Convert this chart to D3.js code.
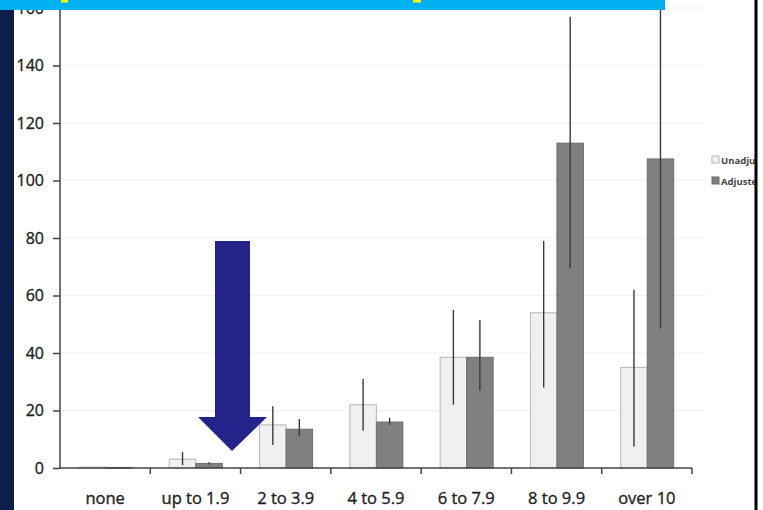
<!DOCTYPE html>
<html>
<head>
<meta charset="utf-8">
<script src="https://cdn.jsdelivr.net/npm/d3@7/dist/d3.min.js"></script>
<style>
html,body{margin:0;padding:0;background:#fff;}
svg{display:block;}
</style>
</head>
<body>
<svg id="chart" width="763" height="510"></svg>
<script>
const categories = ["none","up to 1.9","2 to 3.9","4 to 5.9","6 to 7.9","8 to 9.9","over 10"];
const unadjusted = [0.3, 3.1, 15, 22, 38.5, 54, 35];
const unadjLow   = [0.3, 1, 8, 13, 22, 28, 7.5];
const unadjHigh  = [0.3, 5.5, 21.5, 31, 55, 79, 62];
const adjusted   = [0.2, 1.6, 13.5, 16, 38.5, 113, 107.5];
const adjLow     = [0.2, 1.2, 11, 15, 27, 69.5, 48.5];
const adjHigh    = [0.2, 2, 17, 17.5, 51.5, 157, 175];
const yTicks = [0,20,40,60,80,100,120,140,160];
const seriesNames = ["Unadjusted","Adjusted"];

const svg = d3.select("#chart");
const W = 763, H = 510;
const x0 = d3.scaleBand().domain(categories).range([60, 692]).padding(0);
const x1 = d3.scaleBand().domain(seriesNames).range([19, 72]).padding(0);
const y = d3.scaleLinear().domain([0,160]).range([468, 8]);

const fills = {Unadjusted:"#f0f0f0", Adjusted:"#808080"};
const strokes = {Unadjusted:"#b5b5b5", Adjusted:"#6e6e6e"};
const axisCol = "#444";

// gridlines
svg.append("g").selectAll("line").data(yTicks.slice(1)).join("line")
  .attr("x1", 60).attr("x2", 705)
  .attr("y1", d=>y(d)).attr("y2", d=>y(d))
  .attr("stroke", "#f1f1f1").attr("stroke-width", 1);

const rows = categories.map((c,i)=>[
  {cat:c, s:"Unadjusted", v:unadjusted[i], lo:unadjLow[i], hi:unadjHigh[i]},
  {cat:c, s:"Adjusted", v:adjusted[i], lo:adjLow[i], hi:adjHigh[i]}
]).flat();

svg.append("defs").append("clipPath").attr("id","plotclip")
  .append("rect").attr("x",0).attr("y",0).attr("width",W).attr("height",468);

const g = svg.append("g");
g.selectAll("rect.bar").data(rows).join("rect")
  .attr("class","bar")
  .attr("x", d=>x0(d.cat)+x1(d.s))
  .attr("width", x1.bandwidth())
  .attr("y", d=>y(d.v))
  .attr("height", d=>Math.max(0.8, y(0)-y(d.v)))
  .attr("fill", d=>fills[d.s])
  .attr("stroke", d=>strokes[d.s])
  .attr("stroke-width", 1);

g.append("g").attr("clip-path","url(#plotclip)")
  .selectAll("line.err").data(rows.filter(d=>d.hi-d.lo>0.5)).join("line")
  .attr("x1", d=>x0(d.cat)+x1(d.s)+x1.bandwidth()/2)
  .attr("x2", d=>x0(d.cat)+x1(d.s)+x1.bandwidth()/2)
  .attr("y1", d=>y(d.lo)).attr("y2", d=>y(d.hi))
  .attr("stroke", "#3a3a3a").attr("stroke-width", 1.4);

// y axis
const yAxis = d3.axisLeft(y).tickValues(yTicks).tickSize(7).tickPadding(9).tickFormat(d3.format("d"));
const ya = svg.append("g").attr("transform","translate(60,0)").call(yAxis);
ya.select(".domain").remove();
ya.selectAll(".tick line").attr("stroke",axisCol).attr("stroke-width",1.5);
ya.selectAll(".tick text").attr("font-family","'Open Sans', sans-serif").attr("font-size",16)
  .attr("fill","#222").attr("stroke","#222").attr("stroke-width",0.35);
svg.append("line").attr("x1",60).attr("x2",60).attr("y1",0).attr("y2",y(0))
  .attr("stroke",axisCol).attr("stroke-width",1.5);

// x axis
svg.append("line").attr("x1",60).attr("x2",692).attr("y1",y(0)).attr("y2",y(0))
  .attr("stroke",axisCol).attr("stroke-width",1.5);
svg.append("g").selectAll("line").data(categories).join("line")
  .attr("x1", d=>x0(d)+x0.bandwidth()).attr("x2", d=>x0(d)+x0.bandwidth())
  .attr("y1", y(0)).attr("y2", y(0)+6)
  .attr("stroke",axisCol).attr("stroke-width",1.5);
svg.append("g").selectAll("text").data(categories).join("text")
  .attr("x", d=>x0(d)+x0.bandwidth()/2).attr("y", 504)
  .attr("text-anchor","middle")
  .attr("font-family","'Open Sans', sans-serif").attr("font-size",16.5)
  .attr("fill","#222").attr("stroke","#222").attr("stroke-width",0.35)
  .text(d=>d);

// arrow
const ax = 232;
svg.append("path")
  .attr("d", `M${ax-17},241 L${ax+18},241 L${ax+18},417 L${ax+35},417 L${ax},451 L${ax-34},417 L${ax-17},417 Z`)
  .attr("fill","#23238a");

// legend
const lg = svg.append("g");
seriesNames.forEach((s,i)=>{
  const yy = 160 + i*21;
  lg.append("rect").attr("x",712).attr("y",yy-4).attr("width",7).attr("height",7)
    .attr("fill",fills[s]).attr("stroke",strokes[s]).attr("stroke-width",1);
  lg.append("text").attr("x",721).attr("y",yy+3.5)
    .attr("font-family","'Open Sans', sans-serif").attr("font-size",9.5).attr("font-weight","bold")
    .attr("fill","#444").text(s);
});

// frame decorations
svg.append("rect").attr("x",755).attr("y",0).attr("width",8).attr("height",H).attr("fill","#fff");
svg.append("rect").attr("x",754.5).attr("y",0).attr("width",3).attr("height",H).attr("fill","#000");
svg.append("rect").attr("x",0).attr("y",0).attr("width",14).attr("height",H).attr("fill","#0f1f4d");
svg.append("rect").attr("x",0).attr("y",0).attr("width",665).attr("height",10).attr("fill","#00b0f0");
svg.append("rect").attr("x",61).attr("y",0).attr("width",7).attr("height",2.5).attr("fill","#ffff00");
svg.append("rect").attr("x",413).attr("y",0).attr("width",8).attr("height",2.5).attr("fill","#ffff00");
</script>
</body>
</html>
